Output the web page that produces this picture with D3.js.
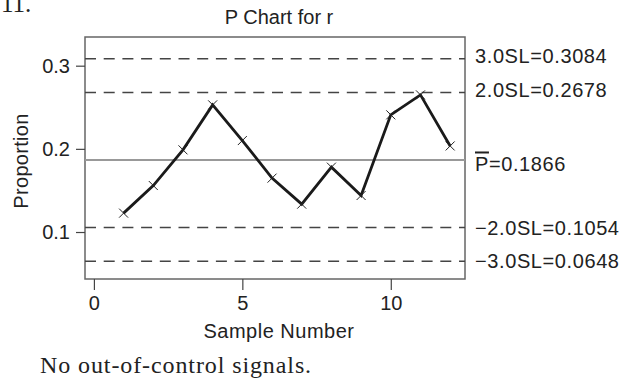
<!DOCTYPE html>
<html><head><meta charset="utf-8">
<script src="https://cdn.jsdelivr.net/npm/d3@7"></script>
<style>
body{margin:0;background:#fff;}
svg{display:block;}
text{font-family:"Liberation Sans",Arial,sans-serif;fill:#222;}
.serif{font-family:"Liberation Serif","Times New Roman",serif;}
</style></head><body>
<svg id="c" width="637" height="382"></svg>
<script>
const samples = [1,2,3,4,5,6,7,8,9,10,11,12];
const proportions = [0.1227,0.1559,0.1988,0.2529,0.2100,0.1648,0.1335,0.1780,0.1439,0.2409,0.2649,0.2035];
const limitValues = [0.3084,0.2678,0.1054,0.0648];
const limitLabels = ["3.0SL=0.3084","2.0SL=0.2678","\u22122.0SL=0.1054","\u22123.0SL=0.0648"];
const centerValue = 0.1866;
const centerLabel = "=0.1866";
const xTicks = [0,5,10];
const yTicks = [0.1,0.2,0.3];
const title = "P Chart for r";
const xLabel = "Sample Number";
const yLabel = "Proportion";
const note = "No out-of-control signals.";
const exNum = "11.";

const svg = d3.select("#c");
const L=85,R=465,T=37,B=279;
const x = d3.scaleLinear().domain([-0.3,12.5]).range([L,R]);
const y = d3.scaleLinear().domain([0.0435,0.3345]).range([B,T]);

// frame
svg.append("rect").attr("x",L).attr("y",T).attr("width",R-L).attr("height",B-T)
  .attr("fill","none").attr("stroke","#666").attr("stroke-width",1.5);

// axes
const xa = svg.append("g").attr("transform",`translate(0,${B})`)
  .call(d3.axisBottom(x).tickValues(xTicks).tickSize(11).tickPadding(6).tickFormat(d3.format("d")));
const ya = svg.append("g").attr("transform",`translate(${L},0)`)
  .call(d3.axisLeft(y).tickValues(yTicks).tickSize(9).tickPadding(6).tickFormat(d3.format(".1f")));
[xa,ya].forEach(g=>{
  g.select(".domain").remove();
  g.selectAll("line").attr("stroke","#444").attr("stroke-width",1.2);
  g.selectAll("text").attr("font-size",20).attr("fill","#222").style("font-family",'"Liberation Sans",Arial,sans-serif');
});

// limit lines
svg.selectAll("line.lim").data(limitValues).enter().append("line").attr("class","lim")
  .attr("x1",L).attr("x2",R).attr("y1",d=>y(d)).attr("y2",d=>y(d))
  .attr("stroke","#444").attr("stroke-width",1.4).attr("stroke-dasharray","11,7.7");
svg.append("line").attr("x1",L).attr("x2",R).attr("y1",y(centerValue)).attr("y2",y(centerValue))
  .attr("stroke","#999").attr("stroke-width",2.2);

// right labels
svg.selectAll("text.lim").data(limitValues).enter().append("text").attr("class","lim")
  .attr("x",475).attr("y",d=>y(d)+(d>centerValue?4.5:7)).attr("font-size",20)
  .attr("letter-spacing",0.6)
  .text((d,i)=>limitLabels[i]);
const cl = svg.append("text").attr("x",475).attr("y",y(centerValue)+11.5).attr("font-size",20).attr("letter-spacing",0.6);
cl.append("tspan").style("text-decoration","overline").text("P");
cl.append("tspan").text(centerLabel);

// data line
const line = d3.line().x((d,i)=>x(samples[i])).y(d=>y(d));
svg.append("path").datum(proportions).attr("d",line).attr("fill","none")
  .attr("stroke","#1a1a1a").attr("stroke-width",2.8).attr("stroke-linejoin","miter");
const s=4.5;
svg.selectAll("path.mk").data(proportions).enter().append("path").attr("class","mk")
  .attr("d",(d,i)=>{const cx=x(samples[i]),cy=y(d);return `M${cx-s},${cy-s}L${cx+s},${cy+s}M${cx-s},${cy+s}L${cx+s},${cy-s}`;})
  .attr("stroke","#222").attr("stroke-width",1);

// titles
svg.append("text").attr("x",(L+R)/2+4).attr("y",24).attr("text-anchor","middle").attr("font-size",20).text(title);
svg.append("text").attr("x",279).attr("y",338).attr("text-anchor","middle").attr("font-size",20).attr("letter-spacing",0.5).text(xLabel);
svg.append("text").attr("transform",`translate(28,${(T+B)/2+3}) rotate(-90)`).attr("text-anchor","middle").attr("font-size",20).attr("letter-spacing",0.3).text(yLabel);
svg.append("text").attr("class","serif").attr("x",40).attr("y",373).attr("font-size",24).attr("letter-spacing",0.9).text(note);
svg.append("text").attr("class","serif").attr("x",1).attr("y",12).attr("font-size",25).text(exNum);
</script></body></html>
